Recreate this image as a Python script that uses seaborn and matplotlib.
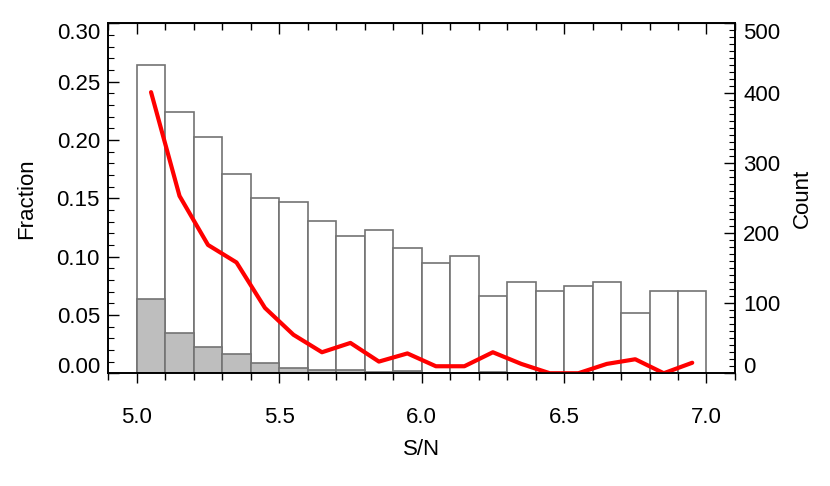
"""Histogram of S/N with detected fraction overlay."""

import numpy as np
import matplotlib
matplotlib.use("Agg")
import matplotlib.pyplot as plt
import seaborn as sns
from matplotlib.ticker import MultipleLocator, FormatStrFormatter

# bin edges in S/N
bin_edges = [5.0, 5.1, 5.2, 5.3, 5.4, 5.5, 5.6, 5.7, 5.8, 5.9, 6.0,
             6.1, 6.2, 6.3, 6.4, 6.5, 6.6, 6.7, 6.8, 6.9, 7.0]
bin_centers = [5.05, 5.15, 5.25, 5.35, 5.45, 5.55, 5.65, 5.75, 5.85, 5.95,
               6.05, 6.15, 6.25, 6.35, 6.45, 6.55, 6.65, 6.75, 6.85, 6.95]

# all candidates per bin (open bars)
total_counts = [440, 374, 337, 285, 250, 245, 217, 196, 204, 179,
                158, 167, 110, 131, 118, 125, 130, 86, 117, 118]
# selected candidates per bin (grey bars)
sel_counts = [106, 57, 37, 27, 14, 8, 4, 5, 2, 3,
              1, 1, 2, 1, 0, 0, 1, 1, 0, 1]
# fraction curve (red)
fraction = [0.241, 0.152, 0.110, 0.095, 0.056, 0.033, 0.018, 0.026, 0.010, 0.017,
            0.006, 0.006, 0.018, 0.008, 0.0, 0.0, 0.008, 0.012, 0.0, 0.009]

FS = 16

sns.set_style("ticks")
plt.rcParams["font.family"] = ["Liberation Sans", "DejaVu Sans"]
plt.rcParams["font.size"] = FS
for key in ("text.color", "axes.labelcolor", "xtick.color", "ytick.color"):
    plt.rcParams[key] = "black"

fig = plt.figure(figsize=(8.3, 4.86), dpi=100)
ax = fig.add_axes([0.1305, 0.232, 0.755, 0.720])

edge = "#737373"
sns.histplot(x=bin_centers, weights=total_counts, bins=bin_edges, ax=ax,
             color="white", edgecolor=edge, linewidth=1.2, alpha=1.0)
sns.histplot(x=bin_centers, weights=sel_counts, bins=bin_edges, ax=ax,
             color="#bebebe", edgecolor=edge, linewidth=1.2, alpha=1.0)

# fraction axis (twin) - created first since twinx resets the host ticks
ax2 = ax.twinx()
sns.lineplot(x=bin_centers, y=fraction, ax=ax2, color="red", linewidth=3)

# count axis on the right
ax.set_xlim(4.9, 7.1)
ax.set_ylim(0, 500)
ax.yaxis.tick_right()
ax.yaxis.set_label_position("right")
ax.set_ylabel("Count", fontsize=FS, labelpad=8)
ax.set_xlabel("S/N", fontsize=FS, labelpad=8)
ax.yaxis.set_major_locator(MultipleLocator(100))
ax.yaxis.set_minor_locator(MultipleLocator(10))
ax.xaxis.set_major_locator(MultipleLocator(0.5))
ax.xaxis.set_minor_locator(MultipleLocator(0.1))
ax.xaxis.set_major_formatter(FormatStrFormatter("%.1f"))
ax.tick_params(axis="x", which="major", direction="out", length=7, width=1,
               labelsize=FS, pad=17)
ax.tick_params(axis="x", which="minor", direction="out", length=5, width=1)
ax.tick_params(axis="y", which="major", direction="in", length=8, width=1,
               labelsize=FS, right=True, left=False,
               labelright=True, labelleft=False, pad=6)
ax.tick_params(axis="y", which="minor", direction="in", length=4, width=0.8,
               right=True, left=False)

# top ticks pointing inward
top = ax.secondary_xaxis("top")
top.xaxis.set_major_locator(MultipleLocator(0.5))
top.xaxis.set_minor_locator(MultipleLocator(0.1))
top.tick_params(axis="x", which="major", direction="in", length=8, width=1,
                labeltop=False)
top.tick_params(axis="x", which="minor", direction="in", length=5, width=1)

# fraction axis on the left
ax2.set_ylim(0, 0.30)
ax2.yaxis.tick_left()
ax2.yaxis.set_label_position("left")
ax2.set_ylabel("Fraction", fontsize=FS, labelpad=14)
ax2.yaxis.set_major_locator(MultipleLocator(0.05))
ax2.yaxis.set_minor_locator(MultipleLocator(0.01))
ax2.yaxis.set_major_formatter(FormatStrFormatter("%.2f"))
ax2.tick_params(axis="y", which="major", direction="in", length=8, width=1,
                labelsize=FS, left=True, right=False,
                labelleft=True, labelright=False, pad=6)
ax2.tick_params(axis="y", which="minor", direction="in", length=4, width=0.8,
                left=True, right=False)

for a in (ax, ax2):
    for s in a.spines.values():
        s.set_visible(True)
        s.set_linewidth(1.2)
        s.set_color("black")

fig.canvas.draw()
# end labels sit inside the frame
for a in (ax, ax2):
    lo, hi = a.get_ylim()
    for tick in a.yaxis.get_major_ticks():
        loc = tick.get_loc()
        if np.isclose(loc, lo):
            tick.label1.set_verticalalignment("baseline")
            tick.label2.set_verticalalignment("baseline")
        elif np.isclose(loc, hi):
            tick.label1.set_verticalalignment("top")
            tick.label2.set_verticalalignment("top")

fig.savefig("out.png", dpi=100)
